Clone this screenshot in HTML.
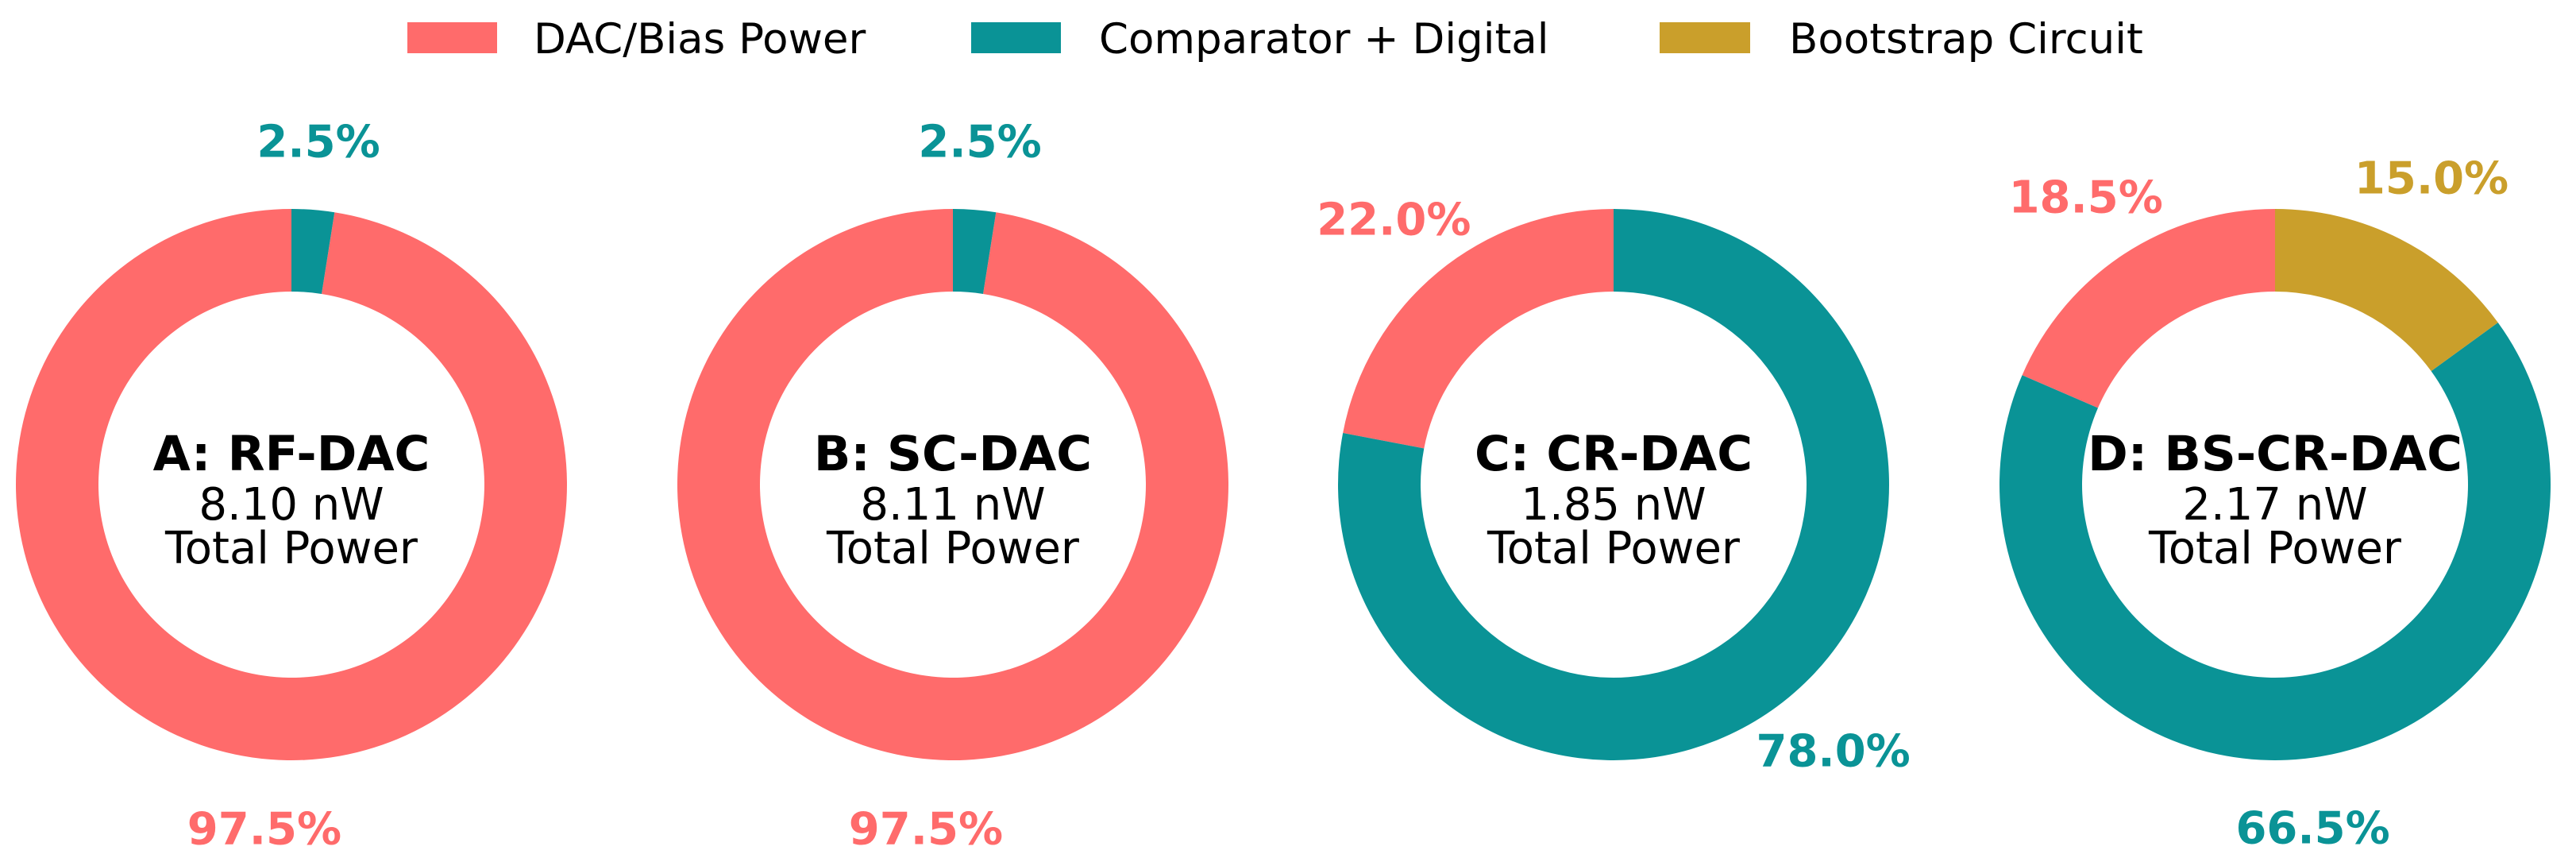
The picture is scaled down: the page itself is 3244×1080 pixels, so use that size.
<!DOCTYPE html>
<html><head><meta charset="utf-8"><style>
html,body{margin:0;padding:0;background:#fff;}
svg{display:block;font-family:"DejaVu Sans","Liberation Sans",sans-serif;}
</style></head><body>
<svg id="chart" width="3244" height="1080" viewBox="0 0 3244 1080" xmlns="http://www.w3.org/2000/svg">
<g id="legend">
  <g>
    <rect x="513" y="28" width="113" height="39" fill="#FF6B6B"/>
    <text x="672" y="67" font-size="53" fill="#000">DAC/Bias Power</text>
  </g>
  <g>
    <rect x="1223" y="28" width="113" height="39" fill="#0A9396"/>
    <text x="1384" y="67" font-size="53" fill="#000">Comparator + Digital</text>
  </g>
  <g>
    <rect x="2090" y="28" width="114" height="39" fill="#CA9F2B"/>
    <text x="2253" y="67" font-size="53" fill="#000">Bootstrap Circuit</text>
  </g>
</g>
<g id="donuts"></g>
</svg>
<script>
const categories = ["DAC/Bias Power", "Comparator + Digital", "Bootstrap Circuit"];
const colors = ["#FF6B6B", "#0A9396", "#CA9F2B"];
const titles = ["A: RF-DAC", "B: SC-DAC", "C: CR-DAC", "D: BS-CR-DAC"];
const totals = ["8.10 nW", "8.11 nW", "1.85 nW", "2.17 nW"];
const dacValues = [97.5, 97.5, 22.0, 18.5];
const compValues = [2.5, 2.5, 78.0, 66.5];
const bootValues = [0, 0, 0, 15.0];

const NS = "http://www.w3.org/2000/svg";
const centersX = [367, 1200, 2032, 2865];
const CY = 610, R = 347, RI = 243, LD = 434;
const g = document.getElementById("donuts");

function pt(angDeg, r, cx) {
  const a = angDeg * Math.PI / 180;
  return [cx - Math.sin(a) * r, CY - Math.cos(a) * r];
}
function arcPath(a0, a1, cx) {
  const large = (a1 - a0) > 180 ? 1 : 0;
  const p0 = pt(a0, R, cx), p1 = pt(a1, R, cx), q1 = pt(a1, RI, cx), q0 = pt(a0, RI, cx);
  return `M${p0[0]},${p0[1]} A${R},${R} 0 ${large} 0 ${p1[0]},${p1[1]} L${q1[0]},${q1[1]} A${RI},${RI} 0 ${large} 1 ${q0[0]},${q0[1]} Z`;
}
const keys = ["dac", "comparator", "bootstrap"];
for (let i = 0; i < titles.length; i++) {
  const cx = centersX[i];
  const vals = [dacValues[i], compValues[i], bootValues[i]];
  const sum = vals.reduce((a, b) => a + b, 0);
  let start = 0;
  const grp = document.createElementNS(NS, "g");
  
  
  g.appendChild(grp);
  vals.forEach((v, k) => {
    if (v <= 0) return;
    const sweep = v / sum * 360;
    const p = document.createElementNS(NS, "path");
    p.setAttribute("d", arcPath(start, start + sweep, cx));
    p.setAttribute("fill", colors[k]);
    
    
    grp.appendChild(p);
    const mid = start + sweep / 2;
    const lp = pt(mid, LD, cx);
    const t = document.createElementNS(NS, "text");
    t.setAttribute("x", lp[0]);
    t.setAttribute("y", lp[1] + 20);
    t.setAttribute("text-anchor", "middle");
    t.setAttribute("font-size", "56");
    t.setAttribute("font-weight", "bold");
    t.setAttribute("fill", colors[k]);
    t.textContent = v.toFixed(1) + "%";
    
    
    grp.appendChild(t);
    start += sweep;
  });
  const lines = [[titles[i], 592, "bold", 'donut-title', 61], [totals[i], 654, "normal", 'total-power-value', 56], ["Total Power", 709, "normal", 'total-power-caption', 56]];
  lines.forEach(l => {
    const t = document.createElementNS(NS, "text");
    t.setAttribute("x", cx);
    t.setAttribute("y", l[1]);
    t.setAttribute("text-anchor", "middle");
    t.setAttribute("font-size", l[4]);
    t.setAttribute("font-weight", l[2]);
    t.setAttribute("fill", "#000");
    t.textContent = l[0];
    
    
    grp.appendChild(t);
  });
}
</script>
</body></html>
